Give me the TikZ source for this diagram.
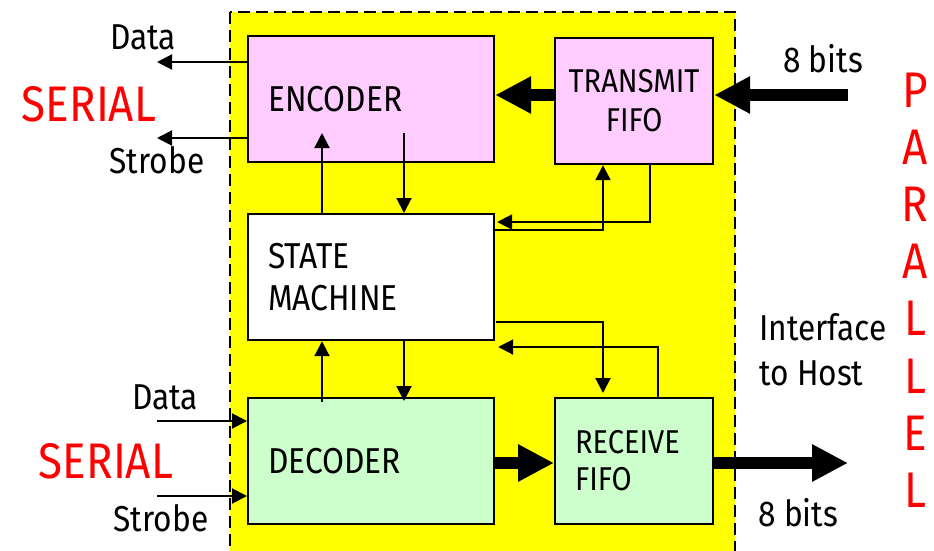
\documentclass[tikz,border=0pt]{standalone}
\usepackage{fontspec}
\setmainfont{Fira Sans}[FakeStretch=0.88]
\usetikzlibrary{arrows.meta}
\definecolor{pinkc}{HTML}{FFCCFF}
\definecolor{greenc}{HTML}{CCFFCC}
\definecolor{yellowc}{HTML}{FFFF00}
\definecolor{redc}{HTML}{FF0000}
\tikzset{
  blk/.style={draw=black, line width=2.2pt, anchor=north west, inner sep=0pt,
    font=\fontsize{36}{42}\selectfont},
  lbl/.style={font=\fontsize{36}{45}\selectfont, inner sep=0pt},
  redlbl/.style={font=\fontsize{50}{57.2}\selectfont, text=redc, inner sep=0pt},
  thin arrow/.style={draw, line width=2pt, -{Triangle[length=15pt,width=15pt]}},
  fat arrow/.style={draw, line width=12pt, -{Triangle[length=36pt,width=35pt]}},
}
\begin{document}
\begin{tikzpicture}[x=1pt,y=-1pt]
\useasboundingbox (0,0) rectangle (934,550);
\fill[white] (0,0) rectangle (934,550);
\clip (0,0) rectangle (934,550);
% yellow dashed region
\filldraw[fill=yellowc, draw=black, line width=1.8pt, dash pattern=on 12pt off 6pt]
  (230,12) rectangle (735,570);
% blocks
\node[blk, fill=pinkc, minimum width=246pt, minimum height=126pt, text width=206pt,
  align=left, inner xsep=20pt] (enc) at (247,35) {ENCODER};
\node[blk, fill=pinkc, minimum width=158pt, minimum height=126pt, align=center,
  font=\fontsize{33}{39}\selectfont] (tf) at (554,37) {TRANSMIT\\FIFO};
\node[blk, fill=white, minimum width=246pt, minimum height=126pt, text width=206pt,
  align=left, inner xsep=20pt] (sm) at (247,213) {STATE\\MACHINE};
\node[blk, fill=greenc, minimum width=246pt, minimum height=126pt, text width=206pt,
  align=left, inner xsep=20pt] (dec) at (247,397) {DECODER};
\node[blk, fill=greenc, minimum width=158pt, minimum height=126pt, text width=118pt,
  align=left, inner xsep=20pt, font=\fontsize{33}{37}\selectfont] (rf) at (554,397) {RECEIVE\\FIFO};
% free ends
\coordinate (dout) at (157,62);
\coordinate (sout) at (157,138);
\coordinate (din) at (157,421);
\coordinate (sin) at (157,496);
\coordinate (pin) at (848,95);
\coordinate (pout) at (848,463);
\coordinate (encup) at (322,133);
\coordinate (encdn) at (404,133);
\coordinate (decup) at (322,402);
% serial lines
\draw[thin arrow] (enc.west |- dout) -- (dout);
\draw[thin arrow] (enc.west |- sout) -- (sout);
\draw[thin arrow] (din) -- (dec.west |- din);
\draw[thin arrow] (sin) -- (dec.west |- sin);
% encoder / state machine
\draw[thin arrow] (sm.north -| encup) -- (encup);
\draw[thin arrow] (encdn) -- (sm.north -| encdn);
% transmit fifo / state machine
\draw[thin arrow] (tf.south -| 650,0) |- ([xshift=2pt]sm.east |- 0,222);
\draw[thin arrow] (sm.east |- 0,230) -| (tf.south -| 603,0);
% state machine / decoder
\draw[thin arrow] (decup) -- (sm.south -| decup);
\draw[thin arrow] (sm.south -| encdn) -- ([yshift=-4pt]dec.north -| encdn);
% state machine / receive fifo
\draw[thin arrow] ([xshift=1pt]sm.east |- 0,322) -| ([yshift=4pt]rf.north -| 603,0);
\draw[thin arrow] (rf.north -| 658,0) |- ([xshift=3pt]sm.east |- 0,347);
% fat data paths
\draw[fat arrow] (pin) -- (tf.east |- pin);
\draw[fat arrow] (tf.west |- 0,95) -- (enc.east |- 0,95);
\draw[fat arrow] (dec.east |- 0,463) -- (rf.west |- 0,463);
\draw[fat arrow] (rf.east |- pout) -- (pout);
% labels
\node[lbl] (dat1) at (143,37) {Data};
\node[lbl] (str1) at (157,160) {Strobe};
\node[redlbl] (ser1) at (89,104) {SERIAL};
\node[lbl] (dat2) at (165,397) {Data};
\node[redlbl] (ser2) at (106,461) {SERIAL};
\node[lbl] (str2) at (161,518) {Strobe};
\node[lbl] (bits1) at (823,59) {8 bits};
\node[lbl, anchor=west] (bits2) at (758,513) {8 bits};
\node[lbl, anchor=west, align=left] (host) at (759,350) {Interface\\to Host};
\node[redlbl, align=center] (par) at (915,290) {P\\A\\R\\A\\L\\L\\E\\L};
\end{tikzpicture}
\end{document}
